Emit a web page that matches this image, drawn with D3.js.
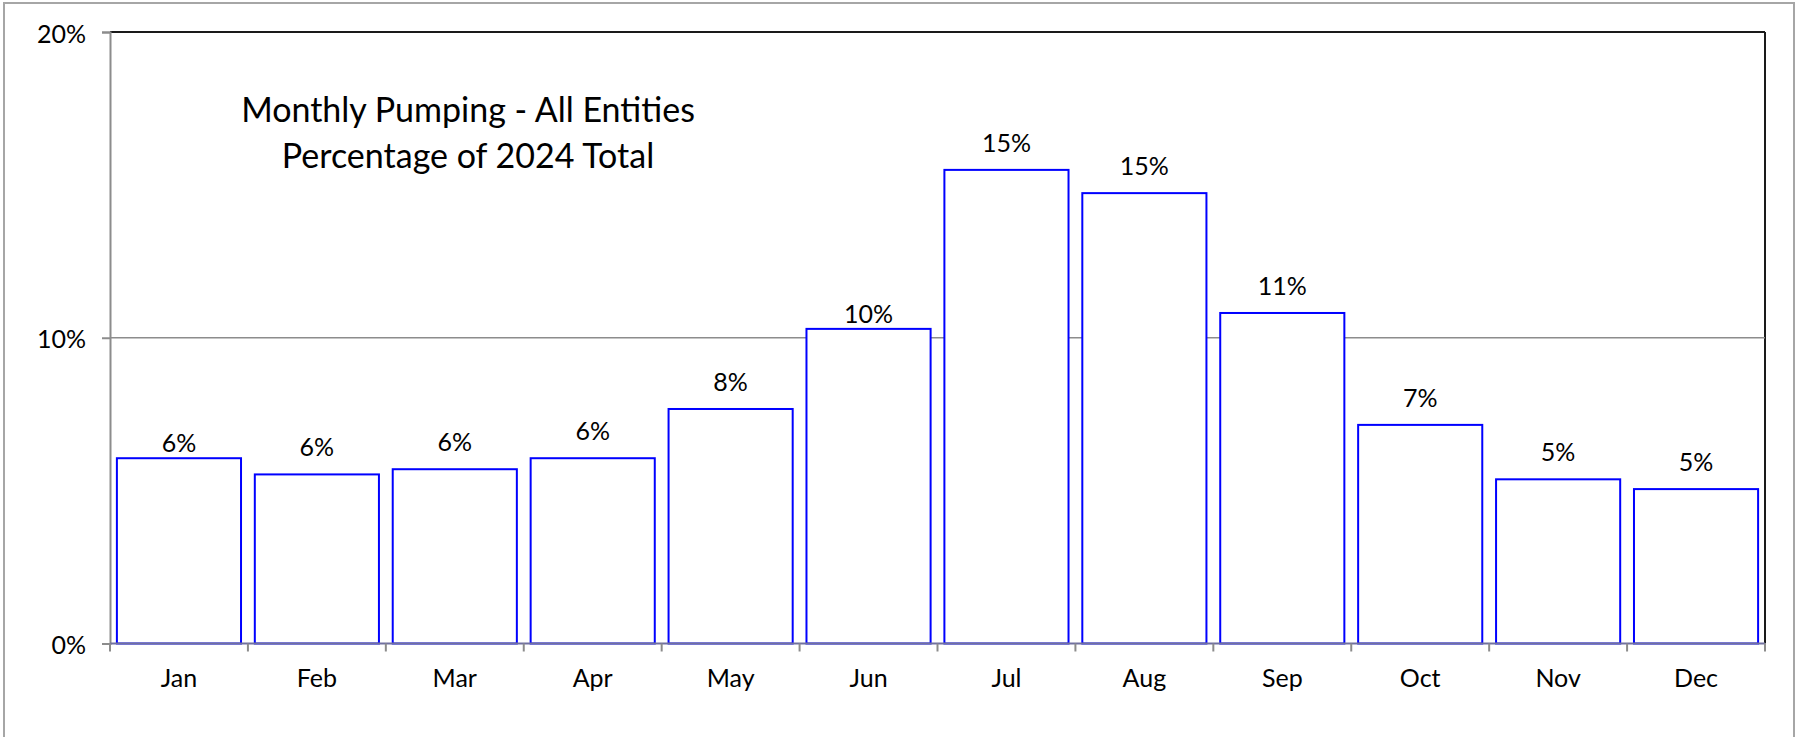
<!DOCTYPE html>
<html>
<head>
<meta charset="utf-8">
<script src="https://cdn.jsdelivr.net/npm/d3@7"></script>
<style>
  html, body { margin: 0; padding: 0; background: #fff; }
  svg { display: block; }
  text { font-family: Lato, "Open Sans", sans-serif; fill: #000; }
</style>
</head>
<body>
<svg id="chart" width="1797" height="737"></svg>
<script>
const months = ["Jan","Feb","Mar","Apr","May","Jun","Jul","Aug","Sep","Oct","Nov","Dec"];
const shares = [0.0606, 0.0553, 0.0570, 0.0606, 0.0767, 0.1029, 0.1549, 0.1473, 0.1081, 0.0715, 0.0537, 0.0505];
const yTicks = [0, 0.1, 0.2];
const titleLines = ["Monthly Pumping - All Entities", "Percentage of 2024 Total"];

const W = 1797, H = 737;
const m = { left: 110, right: 1765, top: 32, bottom: 643.5 };
const svg = d3.select("#chart");
// label gap above bar top (px); Excel placed Jan and Jun labels closer
const labelGap = d => (d === "Jan" || d === "Jun") ? 6 : 18;

// outer chart border
svg.append("rect").attr("x", 4).attr("y", 3).attr("width", 1790).attr("height", 745)
  .attr("fill", "#fff").attr("stroke", "#a6a6a6").attr("stroke-width", 2);

const x = d3.scaleBand().domain(months).range([m.left, m.right]).paddingInner(0.1).paddingOuter(0.05);
const y = d3.scaleLinear().domain([0, 0.2]).range([m.bottom, m.top]);
const pct = d3.format(".0%");

// plot area border top/right (dark)
svg.append("line").attr("x1", m.left).attr("x2", m.right).attr("y1", m.top).attr("y2", m.top)
  .attr("stroke", "#1a1a1a").attr("stroke-width", 2);
svg.append("line").attr("x1", m.right).attr("x2", m.right).attr("y1", m.top).attr("y2", m.bottom)
  .attr("stroke", "#1a1a1a").attr("stroke-width", 2);

// gridlines
svg.append("g").selectAll("line").data(yTicks.filter(d => d > 0 && d < 0.2)).join("line")
  .attr("x1", m.left).attr("x2", m.right)
  .attr("y1", d => y(d)).attr("y2", d => y(d))
  .attr("stroke", "#8c8c8c").attr("stroke-width", 1.3);

// y axis
const yAxis = svg.append("g").attr("transform", `translate(${m.left},0)`)
  .call(d3.axisLeft(y).tickValues(yTicks).tickFormat(pct).tickSize(8).tickPadding(16));
yAxis.select(".domain").attr("stroke", "#8c8c8c").attr("stroke-width", 2);
yAxis.selectAll(".tick line").attr("stroke", "#8c8c8c").attr("stroke-width", 2);
yAxis.selectAll(".tick text").attr("font-size", 25).attr("font-family", "Lato").attr("dy", "0.4em");

// bars
svg.append("g").selectAll("rect").data(months).join("rect")
  .attr("x", d => x(d))
  .attr("width", x.bandwidth())
  .attr("y", (d, i) => y(shares[i]))
  .attr("height", (d, i) => y(0) - y(shares[i]))
  .attr("fill", "#fff").attr("stroke", "#0000ff").attr("stroke-width", 2);

// x axis
const xAxisScale = d3.scaleLinear().domain([0, months.length]).range([m.left, m.right]);
const xAxis = svg.append("g").attr("transform", `translate(0,${m.bottom})`);
xAxis.append("line").attr("x1", m.left).attr("x2", m.right).attr("y1", 0).attr("y2", 0)
  .attr("stroke", "#7070a0").attr("stroke-width", 2);
xAxis.selectAll("line.tk").data(d3.range(months.length + 1)).join("line").attr("class", "tk")
  .attr("x1", d => xAxisScale(d)).attr("x2", d => xAxisScale(d))
  .attr("y1", 0).attr("y2", 8).attr("stroke", "#8c8c8c").attr("stroke-width", 2);
xAxis.selectAll("text").data(months).join("text")
  .attr("x", d => x(d) + x.bandwidth() / 2)
  .attr("y", 43).attr("text-anchor", "middle").attr("font-size", 25)
  .text(d => d);

// data labels
svg.append("g").selectAll("text").data(months).join("text")
  .attr("x", d => x(d) + x.bandwidth() / 2)
  .attr("y", (d, i) => y(shares[i]) - labelGap(d))
  .attr("text-anchor", "middle").attr("font-size", 25)
  .text((d, i) => pct(shares[i]));

// title
svg.append("g").selectAll("text").data(titleLines).join("text")
  .attr("x", 468).attr("y", (d, i) => 122 + i * 46)
  .attr("text-anchor", "middle").attr("font-size", 34)
  .text(d => d);
</script>
</body>
</html>
